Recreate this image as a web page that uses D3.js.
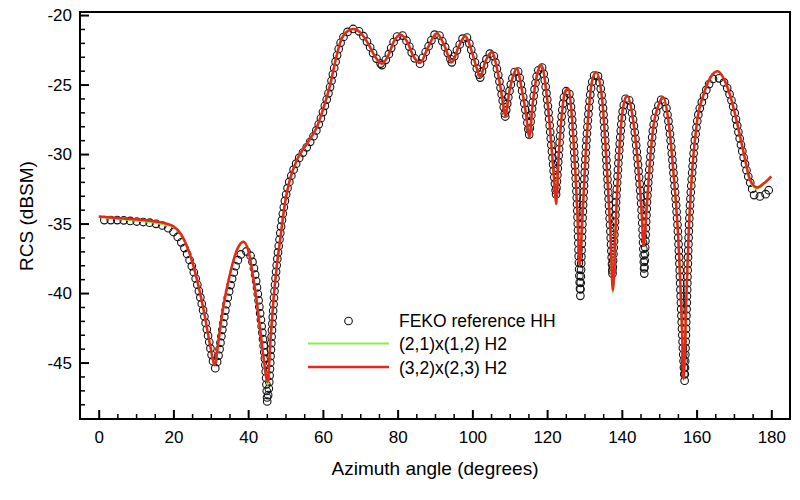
<!DOCTYPE html>
<html>
<head>
<meta charset="utf-8">
<script src="https://cdn.jsdelivr.net/npm/d3@7"></script>
<style>
  body { margin: 0; background: #fff; }
  text { font-family: Helvetica, "Liberation Sans", Arial, sans-serif; fill: #000; }
</style>
</head>
<body>
<svg id="chart" width="800" height="500"></svg>
<script>
// angles (deg) shared by the two H2 curves
const lineAngles = [0, 5, 10, 15, 18, 20, 22, 24, 26, 28, 30, 31, 32, 33, 35, 37, 38.7, 40, 41.2, 42.3,
  43.3, 44.2, 45.2, 46, 46.8, 47.6, 48.5, 49.9, 51.2, 53, 55.7, 58.4, 60.1, 61.9, 63.7, 64.6, 66, 68.2, 70, 72,
  74, 75.8, 77.5, 79, 80.7, 82.5, 84.3, 86, 88, 90.5, 92.5, 94.5, 96.3, 98.1, 99.9, 101.2, 102.1, 103.4, 105.2, 106.6,
  107.9, 108.8, 109.9, 111, 111.9, 113.2, 114.4, 115.2, 116.2, 117.3, 118.4, 120, 121.3, 122, 122.4, 123.1, 124, 124.8, 125.6, 126.6,
  127.5, 128.1, 128.7, 129.3, 130.2, 131.1, 132, 133.1, 134.7, 136, 136.9, 137.6, 138.5, 139.4, 140.3, 141.4, 143.1, 144.5, 145.4, 145.8,
  146.7, 147.6, 148.5, 149.8, 151, 152.6, 153.8, 155.2, 156.1, 156.5, 157.3, 157.9, 158.8, 160.1, 161.9, 163.7, 165.6, 167.5, 169, 170.8,
  172.6, 174.4, 176.2, 178, 180];

// (3,2)x(2,3) H2
const redRcs = [-34.5, -34.6, -34.7, -34.85, -35.0, -35.2, -35.75, -36.9, -38.7, -41.1, -44.0, -45.2, -43.6, -41.6, -38.8, -36.9, -36.3, -36.9, -38.6, -40.6,
  -42.8, -44.8, -46.4, -43.3, -40.4, -38.2, -36.3, -33.45, -31.8, -30.45, -29.26, -28.06, -26.74, -25.06, -22.9, -22.0, -21.3, -21.0, -21.25, -22.0,
  -23.0, -23.5, -22.9, -21.9, -21.4, -21.9, -23.0, -23.45, -22.4, -21.3, -22.2, -23.4, -22.3, -21.5, -22.66, -23.86, -24.45, -23.4, -22.66, -23.86,
  -25.8, -27.3, -25.5, -24.3, -23.86, -25.3, -27.2, -28.8, -26.26, -24.3, -23.6, -26.0, -29.86, -32.25, -33.6, -30.1, -27.0, -25.5, -25.3, -27.2,
  -31.05, -34.2, -38.0, -35.4, -30.6, -27.0, -24.8, -24.1, -26.0, -31.05, -35.4, -39.8, -34.2, -29.4, -26.7, -25.8, -27.7, -31.3, -34.65, -36.6,
  -33.7, -30.3, -27.9, -26.5, -25.9, -27.9, -31.3, -36.6, -42.6, -46.2, -40.1, -35.6, -31.3, -27.7, -25.7, -24.5, -24.05, -24.7, -25.8, -27.7,
  -29.9, -31.9, -32.4, -32.1, -31.6];

// (2,1)x(1,2) H2
const greenRcs = [-34.5, -34.65, -34.78, -34.93, -35.08, -35.25, -35.8, -36.9, -38.7, -41.1, -44.0, -45.2, -43.6, -41.6, -38.8, -36.9, -36.3, -36.9, -38.6, -40.6,
  -42.8, -44.9, -46.6, -43.3, -40.4, -38.2, -36.3, -33.45, -31.8, -30.45, -29.26, -28.06, -26.74, -25.06, -22.9, -22.0, -21.3, -21.0, -21.25, -22.0,
  -23.0, -23.5, -22.9, -21.9, -21.4, -21.9, -23.0, -23.45, -22.4, -21.3, -22.2, -23.4, -22.3, -21.5, -22.66, -23.86, -24.45, -23.4, -22.66, -23.86,
  -25.8, -27.3, -25.5, -24.3, -23.86, -25.3, -27.2, -28.8, -26.26, -24.3, -23.6, -26.0, -29.86, -32.25, -33.6, -30.1, -27.0, -25.5, -25.3, -27.2,
  -31.05, -34.2, -38.0, -35.4, -30.6, -27.0, -24.8, -24.1, -26.0, -31.05, -35.4, -40.0, -34.2, -29.4, -26.7, -25.8, -27.7, -31.3, -34.65, -36.6,
  -33.7, -30.3, -27.9, -26.5, -25.9, -27.9, -31.3, -36.6, -42.6, -46.2, -40.1, -35.6, -31.3, -27.7, -25.7, -24.5, -24.05, -24.7, -25.8, -27.7,
  -29.95, -32.0, -32.5, -32.15, -31.65];

// FEKO reference HH
const fekoAngles = [1.5, 5, 10, 15, 18, 20, 22, 24, 26, 28, 29.5, 30.5, 31.2, 32, 33, 34, 35.5, 37, 38.5, 39.7,
  41, 42, 43, 44, 44.7, 45.1, 45.6, 46.1, 46.8, 47.6, 48.5, 49.5, 50.5, 51.5, 53, 55.7, 58.4, 60.1, 61.9, 63.7,
  64.6, 66, 68.2, 70, 72, 74, 75.8, 77.5, 79, 80.7, 82.5, 84.3, 86, 88, 90.5, 92.5, 94.5, 96.3, 98.1, 99.9,
  101.2, 102.1, 103.4, 105.2, 106.6, 107.9, 108.8, 109.9, 111, 111.9, 113.2, 114.4, 115.2, 116.2, 117.3, 118.4, 120, 121.3, 122, 122.4,
  123.1, 124, 124.8, 125.6, 126.6, 127.5, 128.1, 128.6, 128.9, 129.4, 130.2, 131.1, 132, 133.1, 134.7, 136, 136.9, 137.5, 138.3, 139.4,
  140.3, 141.4, 143.1, 144.5, 145.4, 146, 146.7, 147.6, 148.5, 149.8, 151, 152.6, 153.8, 155.2, 156.1, 156.8, 157.4, 157.9, 158.8, 160.1,
  161.9, 163.5, 165.2, 167.2, 169.9, 171.7, 173.5, 174.6, 175.7, 177.5, 179.3];
const fekoRcs = [-34.75, -34.75, -34.85, -35.0, -35.25, -35.6, -36.3, -37.4, -39.0, -41.3, -43.4, -44.8, -45.4, -44.6, -42.8, -41.1, -39.2, -37.8, -37.1, -37.0,
  -37.6, -38.9, -41.0, -43.4, -45.6, -47.8, -46.6, -44.0, -40.8, -38.1, -35.9, -33.9, -32.5, -31.6, -30.6, -29.5, -28.2, -26.9, -25.2, -23.0,
  -22.1, -21.4, -21.0, -21.25, -22.0, -23.0, -23.6, -22.9, -21.9, -21.4, -21.9, -23.0, -23.5, -22.4, -21.3, -22.2, -23.4, -22.3, -21.5, -22.66,
  -23.86, -24.5, -23.4, -22.7, -23.9, -25.8, -27.3, -25.5, -24.3, -23.9, -25.3, -27.2, -28.6, -26.26, -24.3, -23.7, -26.0, -29.86, -31.9, -32.9,
  -30.1, -27.0, -25.6, -25.4, -27.2, -31.05, -34.2, -38.5, -40.2, -35.4, -30.6, -27.0, -24.9, -24.2, -26.0, -31.05, -35.4, -38.6, -34.2, -29.4,
  -26.8, -25.9, -27.7, -31.3, -34.65, -38.6, -33.7, -30.3, -27.9, -26.5, -26.0, -27.9, -31.3, -36.6, -42.6, -46.3, -40.5, -35.8, -31.4, -27.8,
  -25.9, -24.9, -24.5, -24.8, -26.7, -29.1, -31.3, -32.25, -33.05, -33.05, -32.6];

const xMajorTicks = [0, 20, 40, 60, 80, 100, 120, 140, 160, 180];
const yMajorTicks = [-45, -40, -35, -30, -25, -20];
const legendLabels = ["FEKO reference HH", "(2,1)x(1,2) H2", "(3,2)x(2,3) H2"];

const RED = "#e8261a";
const GREEN = "#88f04a";
const symbolGap = 6.5;   // symbol skipping by screen distance, like the original plot
const symbolR = 3.8;

const plotLeft = 80, plotRight = 790, plotTop = 12, plotBottom = 419;
const svg = d3.select("#chart");

const x = d3.scaleLinear().domain([-5, 185]).range([plotLeft, plotRight]);
const y = d3.scaleLinear().domain([-49.06, -19.78]).range([plotBottom, plotTop]);

const xMinor = d3.range(5, 180, 5).filter(d => d % 20 !== 0);
const yMinor = d3.range(-48, -20, 1).filter(d => d % 5 !== 0);

// axes (ticks inside)
const gx = svg.append("g").attr("transform", `translate(0,${plotBottom})`)
  .call(d3.axisBottom(x).tickValues(xMinor).tickSize(-5).tickFormat(""));
gx.selectAll(".tick line").attr("stroke-width", 1.5);
const gx2 = svg.append("g").attr("transform", `translate(0,${plotBottom})`)
  .call(d3.axisBottom(x).tickValues(xMajorTicks).tickSize(-9).tickPadding(12).tickFormat(d => String(d)));
gx2.selectAll(".tick line").attr("stroke-width", 2);
gx2.attr("font-family", null).attr("font-size", null);
gx2.selectAll("text").style("font-size", "17px");

const gy = svg.append("g").attr("transform", `translate(${plotLeft},0)`)
  .call(d3.axisLeft(y).tickValues(yMinor).tickSize(-5).tickFormat(""));
gy.selectAll(".tick line").attr("stroke-width", 1.5);
const gy2 = svg.append("g").attr("transform", `translate(${plotLeft},0)`)
  .call(d3.axisLeft(y).tickValues(yMajorTicks).tickSize(-9).tickPadding(8).tickFormat(d => String(d)));
gy2.selectAll(".tick line").attr("stroke-width", 2);
gy2.attr("font-family", null).attr("font-size", null);
gy2.selectAll("text").style("font-size", "17px");

svg.selectAll(".domain").remove();

// FEKO symbols, placed along the curve with distance skipping
const fekoPts = fekoAngles.map((a, i) => [x(a), y(fekoRcs[i])]);
const cuts = [0];
for (let i = 1; i < fekoRcs.length - 1; i++) {
  if (fekoRcs[i] < fekoRcs[i - 1] && fekoRcs[i] < fekoRcs[i + 1]) cuts.push(i);
}
cuts.push(fekoRcs.length - 1);

const curveGen = d3.line().curve(d3.curveMonotoneX);
const tmp = svg.append("path").attr("fill", "none");
const marks = [];
for (let k = 0; k < cuts.length - 1; k++) {
  tmp.attr("d", curveGen(fekoPts.slice(cuts[k], cuts[k + 1] + 1)));
  const len = tmp.node().getTotalLength();
  for (let s = 0; s < len - 2; s += symbolGap) {
    const p = tmp.node().getPointAtLength(s);
    marks.push([p.x, p.y]);
  }
}
marks.push(fekoPts[fekoPts.length - 1]);
tmp.remove();

svg.append("g").selectAll("circle").data(marks).join("circle")
  .attr("cx", d => d[0]).attr("cy", d => d[1]).attr("r", symbolR)
  .attr("fill", "none").attr("stroke", "#111").attr("stroke-width", 1.1);

// H2 curves
const curve = d3.line().x((d, i) => x(lineAngles[i])).y(d => y(d)).curve(d3.curveMonotoneX);
svg.append("path").attr("d", curve(greenRcs)).attr("fill", "none")
  .attr("stroke", GREEN).attr("stroke-width", 2.2);
svg.append("path").attr("d", curve(redRcs)).attr("fill", "none")
  .attr("stroke", RED).attr("stroke-width", 2.5).attr("stroke-linejoin", "round");

// frame
svg.append("rect").attr("x", plotLeft).attr("y", plotTop)
  .attr("width", plotRight - plotLeft).attr("height", plotBottom - plotTop)
  .attr("fill", "none").attr("stroke", "#000").attr("stroke-width", 2);

// axis titles
svg.append("text").attr("x", 435).attr("y", 475).attr("text-anchor", "middle")
  .style("font-size", "19px").text("Azimuth angle (degrees)");
svg.append("text").attr("transform", "translate(33,216) rotate(-90)").attr("text-anchor", "middle")
  .style("font-size", "19px").text("RCS (dBSM)");

// legend
const legend = svg.append("g");
const rowY = [326.5, 350, 373.5];
legend.append("circle").attr("cx", 348.5).attr("cy", rowY[0] - 5.5).attr("r", symbolR)
  .attr("fill", "none").attr("stroke", "#111").attr("stroke-width", 1.1);
legend.append("line").attr("x1", 308).attr("x2", 389).attr("y1", rowY[1] - 6.5).attr("y2", rowY[1] - 6.5)
  .attr("stroke", GREEN).attr("stroke-width", 2.2);
legend.append("line").attr("x1", 308).attr("x2", 389).attr("y1", rowY[2] - 6.5).attr("y2", rowY[2] - 6.5)
  .attr("stroke", RED).attr("stroke-width", 2.5);
legend.selectAll("text").data(legendLabels).join("text")
  .attr("x", 399).attr("y", (d, i) => rowY[i]).style("font-size", "17.5px").text(d => d);
</script>
</body>
</html>
